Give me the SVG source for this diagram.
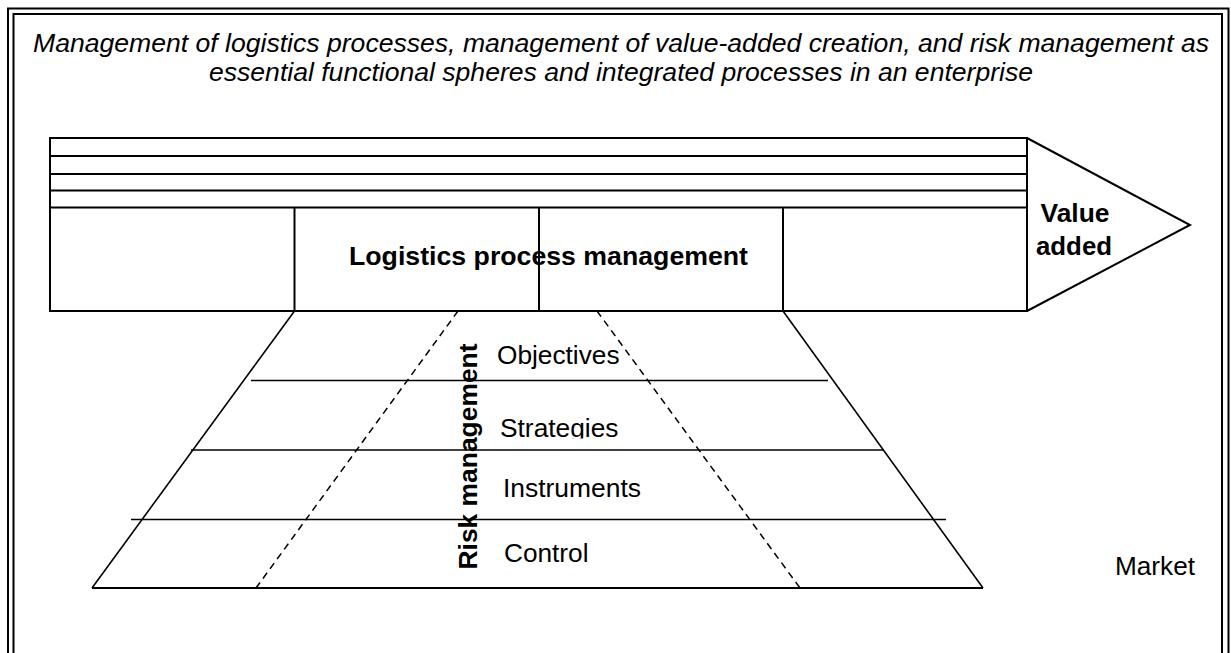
<svg xmlns="http://www.w3.org/2000/svg" width="1231" height="653" viewBox="0 0 1231 653">
<defs>
<style>
.frame{fill:none;stroke:#000;stroke-width:2}
.bar{fill:none;stroke:#000;stroke-width:2}
.ln{fill:none;stroke:#000;stroke-width:1.6}
.dash{fill:none;stroke:#000;stroke-width:1.5;stroke-dasharray:7 5}
.t{font-family:"Liberation Sans",Arial,sans-serif;fill:#000}
.it{font-style:italic;font-size:25px}
.b{font-weight:bold;font-size:25px}
.r{font-size:25.5px}
</style>
<clipPath id="clipStrat"><rect x="480" y="400" width="200" height="38.5"/></clipPath>
</defs>
<rect width="1231" height="653" fill="#fff"/>
<g id="frame">
<polyline class="frame" points="8,653 8,8.5 1228.5,8.5 1228.5,653"/>
<polyline class="frame" points="13.5,653 13.5,14 1222,14 1222,653"/>
</g>
<g id="title">
<text class="t it" x="621" y="52" text-anchor="middle" textLength="1176" lengthAdjust="spacingAndGlyphs">Management of logistics processes, management of value-added creation, and risk management as</text>
<text class="t it" x="621" y="81" text-anchor="middle" textLength="824" lengthAdjust="spacingAndGlyphs">essential functional spheres and integrated processes in an enterprise</text>
</g>
<g id="logistics-bar">
<rect class="bar" x="50" y="138" width="977" height="173"/>
<line class="bar" x1="50" y1="156" x2="1027" y2="156"/>
<line class="bar" x1="50" y1="174" x2="1027" y2="174"/>
<line class="bar" x1="50" y1="190.5" x2="1027" y2="190.5"/>
<line class="bar" x1="50" y1="207.5" x2="1027" y2="207.5"/>
<line class="bar" x1="294.5" y1="207.5" x2="294.5" y2="311"/>
<line class="bar" x1="539" y1="207.5" x2="539" y2="311"/>
<line class="bar" x1="783" y1="207.5" x2="783" y2="311"/>
<text class="t b" x="548.5" y="265" text-anchor="middle" textLength="399" lengthAdjust="spacingAndGlyphs">Logistics process management</text>
</g>
<g id="value-added">
<polyline class="bar" points="1027,138 1190,225 1027,311"/>
<text class="t b" x="1075" y="222" text-anchor="middle" textLength="69" lengthAdjust="spacingAndGlyphs">Value</text>
<text class="t b" x="1074" y="255" text-anchor="middle" textLength="76" lengthAdjust="spacingAndGlyphs">added</text>
</g>
<g id="risk-management">
<line class="ln" x1="294.5" y1="311" x2="92" y2="588"/>
<line class="ln" x1="783" y1="311" x2="983" y2="588"/>
<line class="bar" x1="92" y1="588" x2="983" y2="588"/>
<line class="dash" x1="458" y1="311" x2="256" y2="588"/>
<line class="dash" x1="597" y1="311" x2="800" y2="588"/>
<line class="ln" x1="251" y1="380.5" x2="828" y2="380.5"/>
<line class="ln" x1="191" y1="450" x2="883" y2="450"/>
<line class="ln" x1="131" y1="519.5" x2="946" y2="519.5"/>
<text class="t b" transform="translate(477,569.5) rotate(-90)" textLength="226" lengthAdjust="spacingAndGlyphs">Risk management</text>
</g>
<g id="objectives"><text class="t r" x="497" y="363.5" textLength="122.5" lengthAdjust="spacingAndGlyphs">Objectives</text></g>
<g id="strategies"><text class="t r" x="500" y="437" textLength="118.5" lengthAdjust="spacingAndGlyphs" clip-path="url(#clipStrat)">Strategies</text></g>
<g id="instruments"><text class="t r" x="503" y="497" textLength="138" lengthAdjust="spacingAndGlyphs">Instruments</text></g>
<g id="control"><text class="t r" x="504" y="562" textLength="84.5" lengthAdjust="spacingAndGlyphs">Control</text></g>
<g id="market"><text class="t r" x="1115" y="575" textLength="80" lengthAdjust="spacingAndGlyphs">Market</text></g>
<g id="connectors"></g>
</svg>
